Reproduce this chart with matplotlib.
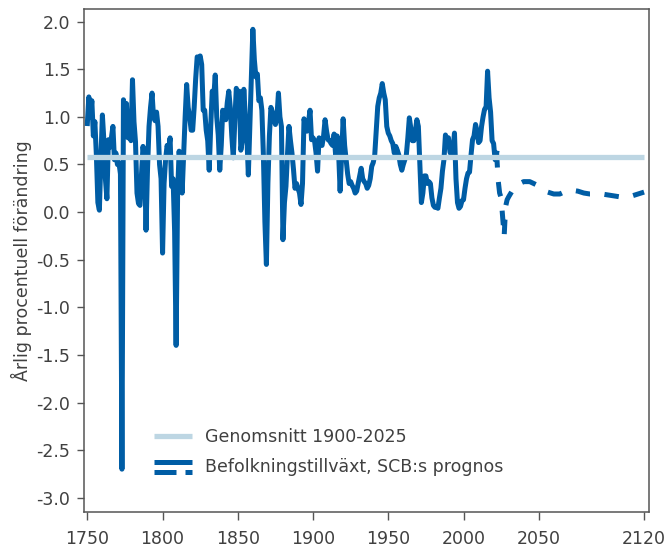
import matplotlib
matplotlib.use("Agg")
import matplotlib.pyplot as plt
from matplotlib.legend_handler import HandlerBase
from matplotlib.lines import Line2D
import numpy as np

# annual population growth in percent, 1750-2022
years_start = 1750
growth = [
    0.93, 1.21, 1.00, 1.17, 0.80, 0.95, 0.60, 0.10, 0.02, 0.55,   # 1750
    1.02, 0.75, 0.35, 0.14, 0.76, 0.68, 0.78, 0.90, 0.55, 0.62,   # 1760
    0.50, 0.52, 0.40, -2.70, 1.18, 1.05, 1.14, 0.78, 0.90, 0.75,  # 1770
    1.39, 0.95, 0.74, 0.20, 0.09, 0.07, 0.40, 0.69, 0.55, -0.19,  # 1780
    0.45, 0.90, 1.10, 1.25, 1.00, 0.96, 1.05, 0.90, 0.50, 0.35,   # 1790
    -0.43, 0.30, 0.55, 0.70, 0.65, 0.78, 0.27, 0.35, -0.20, -1.40,  # 1800
    0.20, 0.64, 0.45, 0.20, 0.60, 1.00, 1.34, 1.10, 1.00, 0.86,   # 1810
    0.86, 1.10, 1.40, 1.63, 1.60, 1.64, 1.55, 1.07, 1.07, 0.86,   # 1820
    0.75, 0.44, 0.90, 1.27, 1.20, 1.44, 1.00, 0.81, 0.44, 0.70,   # 1830
    1.07, 1.00, 0.97, 1.15, 1.27, 1.10, 0.80, 0.57, 0.95, 1.30,   # 1840
    1.20, 1.27, 0.65, 0.75, 1.29, 1.00, 0.80, 0.39, 0.90, 1.40,   # 1850
    1.92, 1.60, 1.42, 1.45, 1.17, 1.20, 1.07, 0.60, -0.10, -0.55,  # 1860
    0.30, 0.80, 1.10, 1.05, 0.97, 0.92, 1.00, 1.25, 1.00, 0.90,   # 1870
    -0.29, 0.10, 0.27, 0.60, 0.90, 0.75, 0.62, 0.45, 0.25, 0.30,  # 1880
    0.25, 0.20, 0.08, 0.30, 0.98, 0.90, 0.85, 0.95, 1.07, 0.76,   # 1890
    0.78, 0.75, 0.62, 0.43, 0.78, 0.72, 0.70, 0.80, 0.97, 0.85,   # 1900
    0.76, 0.75, 0.72, 0.70, 0.82, 0.60, 0.80, 0.62, 0.22, 0.60,   # 1910
    0.98, 0.70, 0.55, 0.40, 0.30, 0.32, 0.28, 0.25, 0.20, 0.22,   # 1920
    0.30, 0.38, 0.46, 0.35, 0.32, 0.30, 0.25, 0.28, 0.35, 0.48,   # 1930
    0.52, 0.60, 0.85, 1.11, 1.20, 1.25, 1.35, 1.25, 1.18, 0.90,   # 1940
    0.83, 0.80, 0.75, 0.72, 0.62, 0.69, 0.65, 0.60, 0.50, 0.44,   # 1950
    0.50, 0.55, 0.60, 0.78, 0.99, 0.88, 0.75, 0.75, 0.85, 0.97,   # 1960
    0.90, 0.50, 0.10, 0.20, 0.38, 0.38, 0.30, 0.32, 0.30, 0.15,   # 1970
    0.07, 0.05, 0.05, 0.04, 0.15, 0.25, 0.43, 0.55, 0.81, 0.75,   # 1980
    0.78, 0.63, 0.60, 0.65, 0.83, 0.35, 0.10, 0.04, 0.06, 0.12,   # 1990
    0.13, 0.25, 0.35, 0.41, 0.42, 0.60, 0.76, 0.80, 0.92, 0.85,   # 2000
    0.73, 0.75, 0.90, 1.00, 1.08, 1.10, 1.48, 1.20, 1.05, 0.75,   # 2010
    0.72, 0.55, 0.62,                                             # 2020
]

# SCB projection
prog_years = [2022, 2023, 2024, 2025, 2026, 2027, 2028, 2029, 2030, 2033,
              2036, 2040, 2044, 2048, 2052, 2056, 2060, 2064, 2068, 2072,
              2076, 2080, 2084, 2088, 2092, 2096, 2100, 2104, 2108, 2112,
              2116, 2120]
prog_growth = [0.62, 0.34, 0.20, 0.15, -0.05, -0.26, 0.06, 0.13, 0.16, 0.24,
               0.29, 0.32, 0.32, 0.29, 0.25, 0.21, 0.19, 0.19, 0.22, 0.23,
               0.22, 0.20, 0.19, 0.19, 0.19, 0.18, 0.17, 0.16, 0.16, 0.17,
               0.19, 0.21]

mean_value = 0.58
mean_span = [1750, 2120]

xticks = [1750, 1800, 1850, 1900, 1950, 2000, 2050, 2120]
yticks = [2.0, 1.5, 1.0, 0.5, 0.0, -0.5, -1.0, -1.5, -2.0, -2.5, -3.0]

dark_blue = "#005da5"
light_blue = "#bdd6e3"
text_col = "#404040"

plt.rcParams['font.family'] = ['DejaVu Sans']
plt.rcParams['font.size'] = 12.5


class StackedHandler(HandlerBase):
    # solid line on top, dashed line below, as in the reference legend
    def create_artists(self, legend, orig_handle, xdescent, ydescent,
                       width, height, fontsize, trans):
        mid = height / 2 - ydescent
        y_top = mid + 3.4
        y_bot = mid - 3.8
        solid = Line2D([-xdescent, width - xdescent], [y_top, y_top],
                       color=dark_blue, lw=3.6, solid_capstyle='butt')
        dashed = Line2D([-xdescent, width - xdescent], [y_bot, y_bot],
                        color=dark_blue, lw=3.6, dash_capstyle='butt',
                        dashes=(4.4, 1.8))
        solid.set_transform(trans)
        dashed.set_transform(trans)
        return [solid, dashed]


fig = plt.figure(figsize=(6.69, 5.47), dpi=100)
ax = fig.add_axes([0.1256, 0.064, 0.845, 0.919])

yrs = np.arange(years_start, years_start + len(growth))
ax.plot(yrs, growth, color=dark_blue, lw=3.6, solid_joinstyle='round', zorder=2)
ax.plot(prog_years, prog_growth, color=dark_blue, lw=3.6, dashes=(2.9, 2.9),
        dash_joinstyle='round', zorder=2)
mean_line, = ax.plot(mean_span, [mean_value, mean_value], color=light_blue,
                     lw=3.8, solid_capstyle='butt', zorder=3)

ax.set_xlim(1747.8, 2123.5)
ax.set_ylim(-3.15, 2.13)
ax.set_xticks(xticks)
ax.set_yticks(yticks)
ax.set_yticklabels([f"{t:.1f}" for t in yticks])
ax.tick_params(axis='both', direction='out', width=1.0,
               color="#555555", labelcolor=text_col, labelsize=12.5)
ax.tick_params(axis='y', length=5, pad=5)
ax.tick_params(axis='x', length=6, pad=7)
for s in ax.spines.values():
    s.set_color("#555555")
    s.set_linewidth(1.1)

ax.set_ylabel("Årlig procentuell förändring", color=text_col, fontsize=12.5,
              labelpad=3)

dummy = Line2D([], [], color=dark_blue)
leg = ax.legend([mean_line, dummy],
                ["Genomsnitt 1900-2025", "Befolkningstillväxt, SCB:s prognos"],
                handler_map={dummy: StackedHandler()},
                loc='upper left', bbox_to_anchor=(0.108, 0.184),
                frameon=False, borderpad=0, handlelength=2.2,
                handletextpad=0.75, labelspacing=0.7, fontsize=12.5)
for t in leg.get_texts():
    t.set_color(text_col)

fig.savefig("out.png", dpi=100)
